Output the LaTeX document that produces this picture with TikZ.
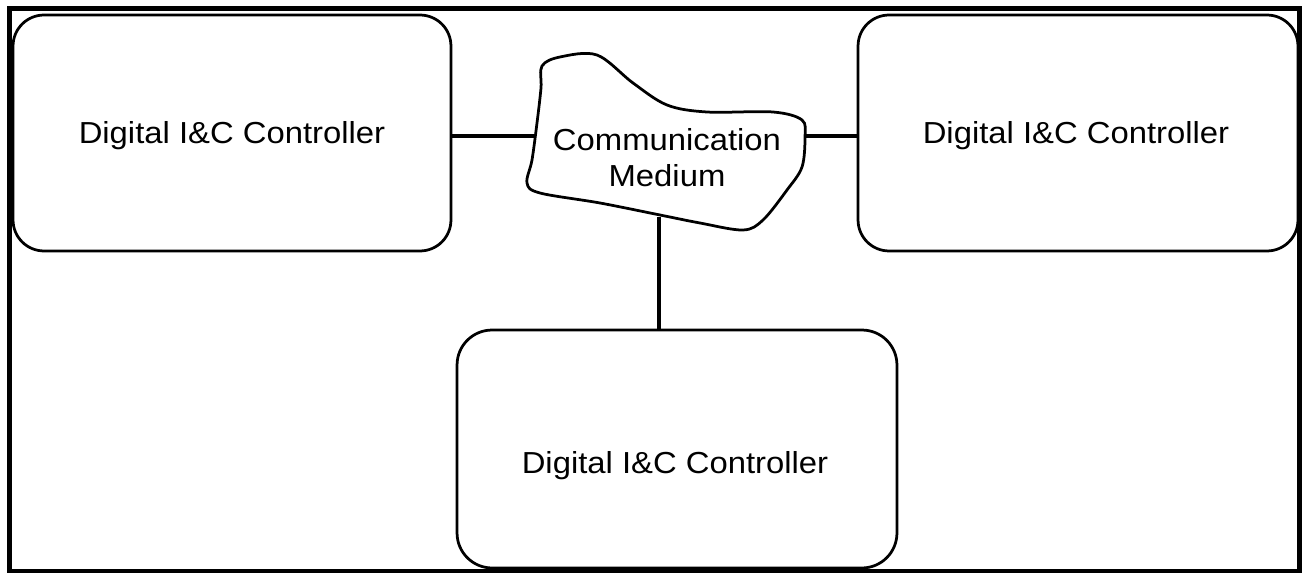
\documentclass[tikz,border=0pt]{standalone}
\usepackage{fontspec}
\setmainfont[FakeStretch=1.08]{Liberation Sans}
\tikzset{
  ctrl/.style={draw, line width=0.055cm, rounded corners=0.62cm, inner sep=0pt},
  lbl/.style={font=\fontsize{17.3}{20.5}\selectfont, align=center, inner sep=0pt},
  wire/.style={line width=0.065cm}
}
\begin{document}
\begin{tikzpicture}[x=0.02cm, y=0.02cm]
\useasboundingbox (0,0) rectangle (1304,572);
% outer frame
\draw[line width=0.1cm] (9.5,0.5) rectangle (1299,563.5);
% the three controllers
\node[ctrl, minimum width=8.76cm, minimum height=4.72cm] (c1) at (232,439) {};
\node[ctrl, minimum width=8.8cm, minimum height=4.72cm] (c2) at (1078,439) {};
\node[ctrl, rounded corners=0.7cm, minimum width=8.8cm, minimum height=4.76cm] (c3) at (677,123) {};
\node[lbl] (t1) at (232,436) {Digital I\&C Controller};
\node[lbl] (t2) at (1076,436) {Digital I\&C Controller};
\node[lbl] (t3) at (675,106) {Digital I\&C Controller};
% medium blob
\draw[line width=0.055cm] plot[smooth cycle, tension=0.55] coordinates {
  (542,506) (560,515) (597,517) (633,489) (667,467) (707,460) (773,460)
  (802,452) (805,435) (802,405) (787,382) (763,352) (743,342) (700,349)
  (660,357) (600,369) (540,379) (527,389) (532,412) (537,449) (541,484)};
\node[lbl] (med) at (667,414) {Communication\\Medium};
\coordinate (mL) at (535,436);
\coordinate (mR) at (805,436);
\coordinate (mB) at (659,355);
% links
\draw[wire] (mL) -- (mL -| c1.east);
\draw[wire] (mR) -- (mR -| c2.west);
\draw[wire] (mB) -- (mB |- c3.north);
\end{tikzpicture}
\end{document}
